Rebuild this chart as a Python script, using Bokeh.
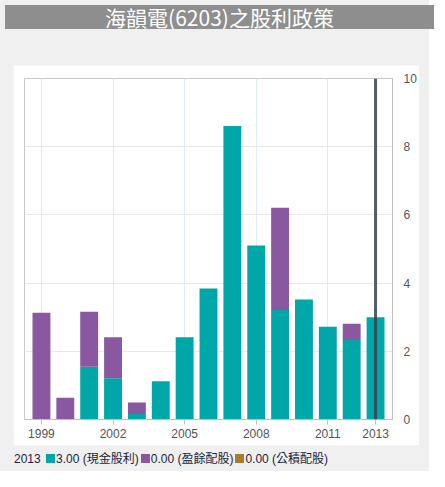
from bokeh.plotting import figure
from bokeh.models import ColumnDataSource, Span, Div, FixedTicker, Range1d
from bokeh.layouts import column
from bokeh.embed import file_html
from bokeh.resources import INLINE

# dividend data (元)
years = [1999, 2000, 2001, 2002, 2003, 2004, 2005, 2006, 2007, 2008, 2009, 2010, 2011, 2012, 2013]
cash = [0.0, 0.0, 1.55, 1.21, 0.16, 1.12, 2.41, 3.84, 8.61, 5.10, 3.21, 3.52, 2.72, 2.33, 3.00]
stock = [3.13, 0.64, 1.61, 1.20, 0.34, 0.0, 0.0, 0.0, 0.0, 0.0, 3.00, 0.0, 0.0, 0.48, 0.0]
reserve = [0.0, 0.0, 0.0, 0.0, 0.0, 0.0, 0.0, 0.0, 0.0, 0.0, 0.0, 0.0, 0.0, 0.0, 0.0]
x_ticks = [1999, 2002, 2005, 2008, 2011, 2013]
y_ticks = [0, 2, 4, 6, 8, 10]
names = ["現金股利", "盈餘配股", "公積配股"]
title = "海韻電(6203)之股利政策"

teal = "#00a7a8"
purple = "#8a57a1"
gold = "#a77d2a"
page_bg = "#eff0ef"

src = ColumnDataSource(data=dict(year=years, cash=cash, stock=stock, reserve=reserve))

p = figure(frame_width=368, frame_height=349,
           x_range=Range1d(1998.29, 2013.71), y_range=Range1d(0, 10),
           y_axis_location="right", output_backend="svg", toolbar_location=None,
           min_border_left=11, min_border_right=21, min_border_top=13, min_border_bottom=26,
           margin=(31, 0, 0, 13))
p.background_fill_color = "white"
p.border_fill_color = "white"
p.outline_line_color = "#c8c8c8"

p.vbar_stack(["cash", "stock", "reserve"], x="year", width=0.75,
             color=[teal, purple, gold], line_color=None, source=src)

sel = len(years) - 1
p.add_layout(Span(location=years[sel], dimension="height", line_color="#37414b",
                  line_width=3, line_alpha=0.85))

p.xaxis.ticker = FixedTicker(ticks=x_ticks)
p.xaxis.major_label_text_font = "Liberation Sans"
p.xaxis.major_label_text_font_size = "12px"
p.xaxis.major_label_text_color = "#555555"
p.xaxis.axis_line_color = "#c0c0c0"
p.xaxis.major_tick_line_color = "#c0c0c0"
p.xaxis.major_tick_in = 0
p.xaxis.major_tick_out = 5
p.xaxis.minor_tick_line_color = None
p.xaxis.major_label_standoff = 4

p.yaxis.ticker = FixedTicker(ticks=y_ticks)
p.yaxis.major_label_text_font = "Liberation Sans"
p.yaxis.major_label_text_font_size = "12px"
p.yaxis.major_label_text_color = "#555555"
p.yaxis.axis_line_color = "#c0c0c0"
p.yaxis.major_tick_line_color = None
p.yaxis.minor_tick_line_color = None
p.yaxis.major_label_standoff = 5

p.xgrid.ticker = FixedTicker(ticks=x_ticks)
p.xgrid.grid_line_color = "#dcedf5"
p.ygrid.ticker = FixedTicker(ticks=y_ticks[1:-1])
p.ygrid.grid_line_color = "#e8e8e8"

head = Div(text=title, width=429, height=24,
           styles={"background-color": "#8e8e8e", "color": "white", "font-size": "21px",
                   "font-family": "Noto Sans CJK TC", "text-align": "center",
                   "line-height": "24px", "width": "429px", "height": "24px"})

def box(c):
    return ('<span style="display:inline-block;width:9px;height:9px;'
            'background:%s;margin:0 1px 0 2px"></span>' % c)

vals = [cash[sel], stock[sel], reserve[sel]]
legend_html = "%d " % years[sel]
for c, v, n in zip([teal, purple, gold], vals, names):
    legend_html += box(c) + "%.2f (%s)" % (v, n)

legend = Div(text=legend_html, width=400, height=20, margin=(6, 0, 0, 14),
             styles={"font-size": "12px", "font-family": "Liberation Sans, Noto Sans CJK TC",
                     "color": "#1e1e3a", "white-space": "nowrap"})

layout = column(head, p, legend, width=429, height=471,
                styles={"background-color": page_bg})

open("out.html", "w").write(file_html(layout, INLINE))
